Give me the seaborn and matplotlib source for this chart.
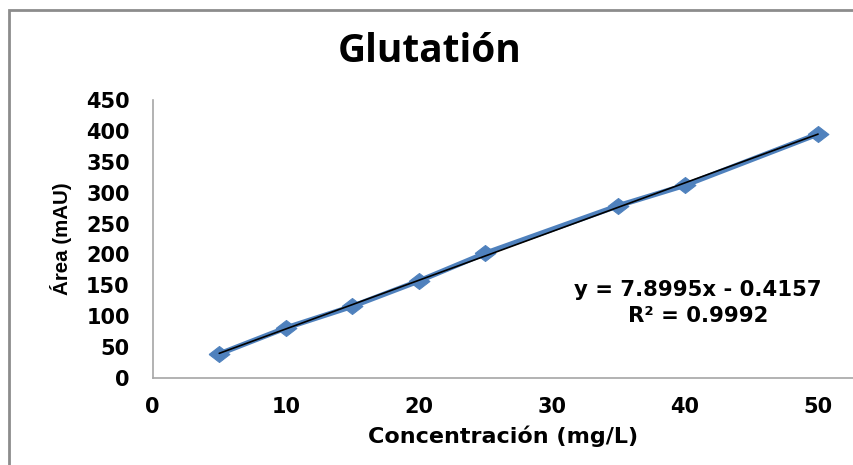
import matplotlib
matplotlib.use("Agg")
import matplotlib.pyplot as plt
import seaborn as sns
import pandas as pd
from matplotlib.patches import Rectangle

# Calibration data for glutathione
concentracion = [5, 10, 15, 20, 25, 35, 40, 50]
area = [39, 81, 116, 157, 202, 279, 312, 395]
ecuacion = "y = 7.8995x - 0.4157"
r_cuadrado = "R² = 0.9992"
titulo = "Glutatión"
x_ticks = [0, 10, 20, 30, 40, 50]
y_ticks = [0, 50, 100, 150, 200, 250, 300, 350, 400, 450]

df = pd.DataFrame({"conc": concentracion, "area": area})

sns.set_style("white")
plt.rcParams["font.family"] = ["DejaVu Sans"]
plt.rcParams["text.color"] = "black"
plt.rcParams["axes.labelcolor"] = "black"
plt.rcParams["xtick.color"] = "black"
plt.rcParams["ytick.color"] = "black"

blue = "#4F81BD"
fig = plt.figure(figsize=(8.54, 4.65), dpi=100)
ax = fig.add_axes([152.7 / 854, 1 - 378 / 465, 1 - 152.7 / 854, (378 - 100) / 465])

# wide diamond marker
diamond = [(-1.3, 0), (0, 1), (1.3, 0), (0, -1), (-1.3, 0)]

sns.lineplot(data=df, x="conc", y="area", ax=ax, color=blue, lw=3.8,
             marker=diamond, markersize=15, markeredgecolor=blue,
             markerfacecolor=blue, zorder=2)
sns.regplot(data=df, x="conc", y="area", ax=ax, scatter=False, ci=None,
            color="black", line_kws={"lw": 1.2, "zorder": 3})

ax.set_xlim(0, 52.7)
ax.set_ylim(0, 450)
ax.set_xticks(x_ticks)
ax.set_yticks(y_ticks)
ax.tick_params(axis="both", length=0, labelsize=15)
for lab in ax.get_xticklabels() + ax.get_yticklabels():
    lab.set_fontweight("bold")
ax.tick_params(axis="x", pad=14)
ax.tick_params(axis="y", pad=16.5)

ax.set_xlabel("Concentración (mg/L)", fontsize=16, fontweight="bold", labelpad=6)
ax.set_ylabel("Área (mAU)", fontsize=14.8, fontweight="bold",
              family="Liberation Sans", labelpad=10)

for side in ["top", "right"]:
    ax.spines[side].set_visible(False)
for side in ["left", "bottom"]:
    ax.spines[side].set_color("#A6A6A6")
    ax.spines[side].set_linewidth(1.2)

ax.text(41.0, 143, ecuacion, ha="center", va="center", fontsize=15.3,
        fontweight="bold")
ax.text(41.0, 101, r_cuadrado, ha="center", va="center", fontsize=15.3,
        fontweight="bold")

fig.text(430 / 854, 1 - 52 / 465, titulo, ha="center", va="center",
         fontsize=28, fontweight="bold", family="Open Sans", color="black")

# chart area border
fig.patches.append(Rectangle((9.5 / 854, -0.1), 1.2, 1 - 10.5 / 465 + 0.1,
                             transform=fig.transFigure, fill=False,
                             edgecolor="#8C8C8C", lw=2, zorder=0))

fig.savefig("out.png", dpi=100)
